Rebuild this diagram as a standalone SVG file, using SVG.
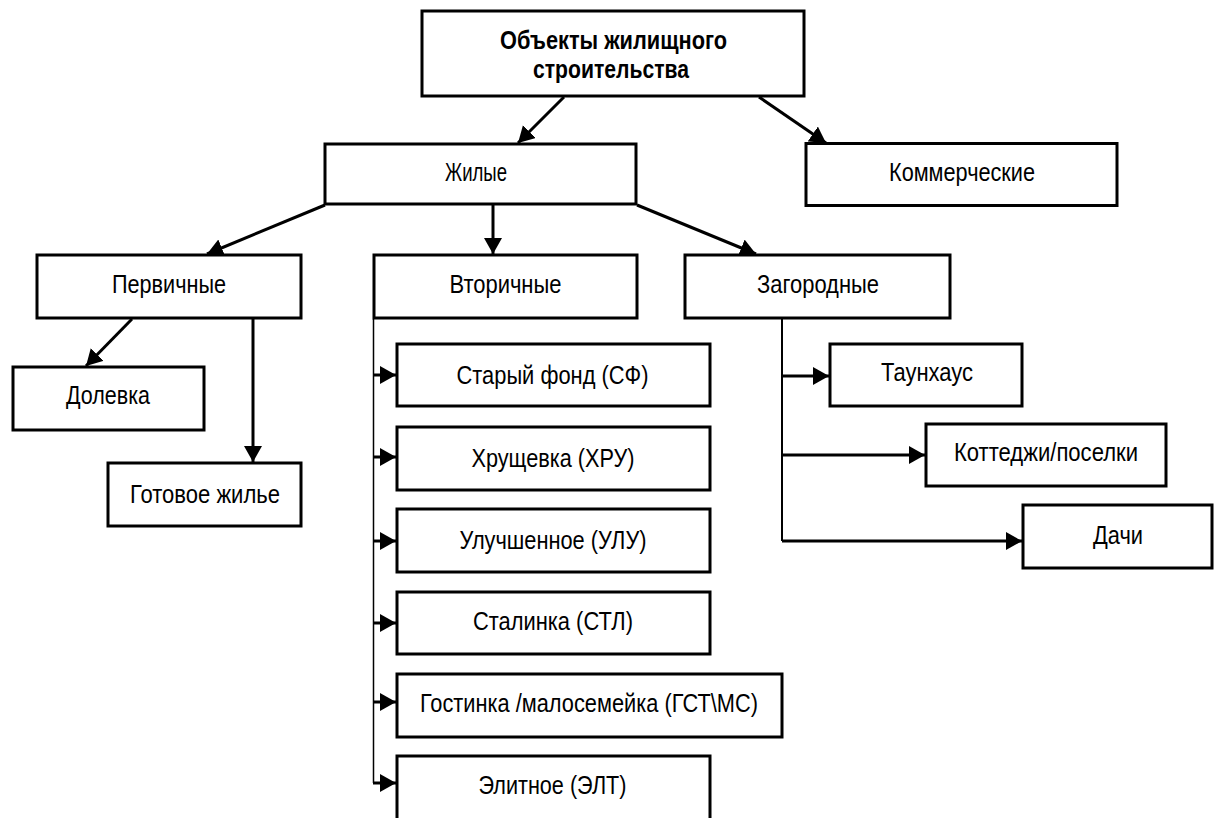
<svg xmlns="http://www.w3.org/2000/svg" width="1215" height="818" viewBox="0 0 1215 818">
<style>
  .box { fill: #ffffff; stroke: #000000; stroke-width: 3; }
  .t { font-family: "Liberation Sans Narrow", "Liberation Sans", Arial, sans-serif; font-size: 26px; fill: #000000; text-anchor: middle; }
  .b { font-weight: bold; font-size: 25px; }
  .c { fill: none; stroke: #000000; stroke-width: 3; }
  .thin { fill: none; stroke: #000000; stroke-width: 1.5; }
  .mid { fill: none; stroke: #000000; stroke-width: 2; }
</style>
<defs>
  <marker id="arr" markerUnits="userSpaceOnUse" markerWidth="17" markerHeight="19" refX="16" refY="9" orient="auto">
    <path d="M0,0 L16,9 L0,18 Z" fill="#000000"/>
  </marker>
</defs>
<rect x="0" y="0" width="1215" height="818" fill="#ffffff"/>

<g id="connectors">
  <line class="c" x1="564" y1="97" x2="518" y2="143" marker-end="url(#arr)"/>
  <line class="c" x1="759" y1="97" x2="826" y2="143" marker-end="url(#arr)"/>
  <line class="c" x1="325" y1="205" x2="207" y2="254" marker-end="url(#arr)"/>
  <line class="c" x1="493" y1="205" x2="493" y2="254" marker-end="url(#arr)"/>
  <line class="c" x1="637" y1="205" x2="756" y2="254" marker-end="url(#arr)"/>
  <line class="c" x1="132" y1="319" x2="86" y2="366" marker-end="url(#arr)"/>
  <line class="c" x1="253" y1="319" x2="253" y2="462" marker-end="url(#arr)"/>
  <line class="thin" x1="373.5" y1="319" x2="373.5" y2="783"/>
  <line class="c" x1="373" y1="375" x2="396" y2="375" marker-end="url(#arr)"/>
  <line class="c" x1="373" y1="457" x2="396" y2="457" marker-end="url(#arr)"/>
  <line class="c" x1="373" y1="541" x2="396" y2="541" marker-end="url(#arr)"/>
  <line class="c" x1="373" y1="623" x2="396" y2="623" marker-end="url(#arr)"/>
  <line class="c" x1="373" y1="702" x2="396" y2="702" marker-end="url(#arr)"/>
  <line class="c" x1="373" y1="783" x2="396" y2="783" marker-end="url(#arr)"/>
  <line class="mid" x1="782" y1="319" x2="782" y2="541"/>
  <line class="c" x1="782" y1="376" x2="829" y2="376" marker-end="url(#arr)"/>
  <line class="c" x1="782" y1="455" x2="925" y2="455" marker-end="url(#arr)"/>
  <line class="c" x1="782" y1="541" x2="1022" y2="541" marker-end="url(#arr)"/>
</g>

<g id="node-root">
  <rect class="box" x="422" y="11" width="382" height="85"/>
  <text class="t b" x="613.5" y="49" textLength="227" lengthAdjust="spacingAndGlyphs">Объекты жилищного</text>
  <text class="t b" x="611" y="78" textLength="156" lengthAdjust="spacingAndGlyphs">строительства</text>
</g>
<g id="node-zhilye">
  <rect class="box" x="325" y="144" width="311" height="60"/>
  <text class="t" x="476" y="181" textLength="62" lengthAdjust="spacingAndGlyphs">Жилые</text>
</g>
<g id="node-kommercheskie">
  <rect class="box" x="806" y="143.5" width="311" height="62"/>
  <text class="t" x="962" y="181" textLength="146" lengthAdjust="spacingAndGlyphs">Коммерческие</text>
</g>
<g id="node-pervichnye">
  <rect class="box" x="37" y="255" width="264" height="63"/>
  <text class="t" x="169" y="293" textLength="114" lengthAdjust="spacingAndGlyphs">Первичные</text>
</g>
<g id="node-vtorichnye">
  <rect class="box" x="374" y="255" width="263" height="63"/>
  <text class="t" x="505.5" y="293" textLength="112" lengthAdjust="spacingAndGlyphs">Вторичные</text>
</g>
<g id="node-zagorodnye">
  <rect class="box" x="685" y="255" width="265" height="63"/>
  <text class="t" x="818" y="293" textLength="122" lengthAdjust="spacingAndGlyphs">Загородные</text>
</g>
<g id="node-dolevka">
  <rect class="box" x="13" y="367" width="191" height="63"/>
  <text class="t" x="108" y="404" textLength="84" lengthAdjust="spacingAndGlyphs">Долевка</text>
</g>
<g id="node-gotovoe">
  <rect class="box" x="108" y="463" width="193" height="63"/>
  <text class="t" x="205" y="503" textLength="150" lengthAdjust="spacingAndGlyphs">Готовое жилье</text>
</g>
<g id="node-staryi">
  <rect class="box" x="397" y="344" width="313" height="62"/>
  <text class="t" x="552.5" y="384" textLength="192" lengthAdjust="spacingAndGlyphs">Старый фонд (СФ)</text>
</g>
<g id="node-hrushevka">
  <rect class="box" x="397" y="427" width="313" height="63"/>
  <text class="t" x="553" y="467" textLength="163" lengthAdjust="spacingAndGlyphs">Хрущевка (ХРУ)</text>
</g>
<g id="node-uluchshennoe">
  <rect class="box" x="397" y="509" width="313" height="63"/>
  <text class="t" x="553" y="549" textLength="187" lengthAdjust="spacingAndGlyphs">Улучшенное (УЛУ)</text>
</g>
<g id="node-stalinka">
  <rect class="box" x="397" y="592" width="313" height="62"/>
  <text class="t" x="553" y="630" textLength="160" lengthAdjust="spacingAndGlyphs">Сталинка (СТЛ)</text>
</g>
<g id="node-gostinka">
  <rect class="box" x="397" y="674" width="385" height="63"/>
  <text class="t" x="589" y="712" textLength="338" lengthAdjust="spacingAndGlyphs">Гостинка /малосемейка (ГСТ\МС)</text>
</g>
<g id="node-elitnoe">
  <rect class="box" x="397" y="756" width="313" height="70"/>
  <text class="t" x="552.5" y="794" textLength="148" lengthAdjust="spacingAndGlyphs">Элитное (ЭЛТ)</text>
</g>
<g id="node-taunhaus">
  <rect class="box" x="830" y="344" width="192" height="62"/>
  <text class="t" x="927" y="381" textLength="92" lengthAdjust="spacingAndGlyphs">Таунхаус</text>
</g>
<g id="node-kottedzhi">
  <rect class="box" x="926" y="424" width="240" height="62"/>
  <text class="t" x="1046" y="461" textLength="184" lengthAdjust="spacingAndGlyphs">Коттеджи/поселки</text>
</g>
<g id="node-dachi">
  <rect class="box" x="1023" y="505" width="189" height="63"/>
  <text class="t" x="1118" y="544" textLength="50" lengthAdjust="spacingAndGlyphs">Дачи</text>
</g>
</svg>
